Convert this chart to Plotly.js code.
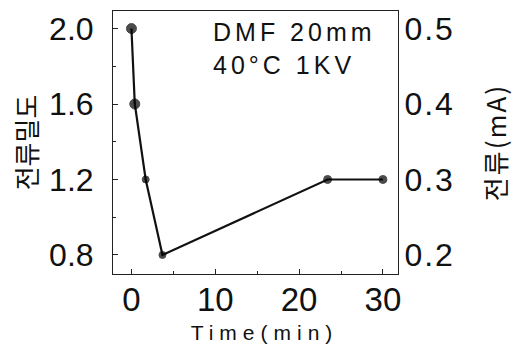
<!DOCTYPE html>
<html>
<head>
<meta charset="utf-8">
<script src="https://cdn.plot.ly/plotly-3.0.1.min.js"></script>
<style>
  html, body { margin: 0; padding: 0; background: #fff; }
  #chart { width: 514px; height: 347px; }
  .xtitle { letter-spacing: 6px; }
  .g-xtitle { transform: translateX(9px); }
  .y2title { letter-spacing: 2px; }
  .xaxislayer-above g.xtick { transform: translateY(-4px); }
  .annotation-text { letter-spacing: 4px; }
  .y2tick text { letter-spacing: 2px; }
</style>
</head>
<body>
<div id="chart"></div>
<script>
// ---- data ----
const timeMin = [0, 0.4, 1.7, 3.7, 23.4, 30];
const currentDensity = [2.0, 1.6, 1.2, 0.8, 1.2, 1.2];
const currentMA = [0.5, 0.4, 0.3, 0.2, 0.3, 0.3];
const xTicks = [0, 10, 20, 30];
const yLeftTicks = [0.8, 1.2, 1.6, 2.0];
const yLeftTickText = ['0.8', '1.2', '1.6', '2.0'];
const yRightTicks = [0.2, 0.3, 0.4, 0.5];
const yRightTickText = ['0.2', '0.3', '0.4', '0.5'];
const xTitle = 'Time(min)';
const yLeftTitle = '전류밀도';
const yRightTitle = '전류(mA)';
const noteText = 'DMF 20mm<br>40°C 1KV';

const tickFont = { family: 'Liberation Sans, Arial, sans-serif', size: 32, color: '#111' };

const traces = [
  {
    x: timeMin, y: currentDensity, type: 'scatter', mode: 'lines+markers',
    line: { color: '#111', width: 2.2 },
    marker: { color: '#000', size: [10, 10, 7, 7, 8, 8], symbol: 'circle', line: { color: '#000', width: 1 } },
    hoverinfo: 'skip', showlegend: false, cliponaxis: false
  },
  {
    x: timeMin, y: currentMA, type: 'scatter', mode: 'lines', yaxis: 'y2',
    line: { color: 'rgba(0,0,0,0)', width: 0 },
    hoverinfo: 'skip', showlegend: false
  }
];

const layout = {
  width: 514, height: 347,
  margin: { l: 113, r: 116, t: 11, b: 73 },
  paper_bgcolor: '#fff', plot_bgcolor: '#fff',
  showlegend: false,
  xaxis: {
    range: [-2.2, 31.8], tickvals: xTicks, ticktext: xTicks.map(String),
    ticks: 'inside', ticklen: 5, tickcolor: '#222',
    minor: { tickvals: [5, 15, 25], ticks: 'inside', ticklen: 3, tickcolor: '#222' },
    showline: true, linecolor: '#222', linewidth: 1, mirror: true,
    showgrid: false, zeroline: false,
    tickfont: { family: 'Liberation Sans, Arial, sans-serif', size: 33, color: '#111' },
    title: { text: xTitle, font: { family: 'Liberation Sans, Arial, sans-serif', size: 21, color: '#111' }, standoff: 4 }
  },
  yaxis: {
    range: [0.699, 2.093], tickvals: yLeftTicks, ticktext: yLeftTickText,
    ticks: 'inside', ticklen: 5, tickcolor: '#222',
    minor: { tickvals: [1.0, 1.4, 1.8], ticks: 'inside', ticklen: 3, tickcolor: '#222' },
    showline: true, linecolor: '#222', linewidth: 1, mirror: true,
    showgrid: false, zeroline: false,
    tickfont: tickFont, ticklabelstandoff: 12,
    title: { text: yLeftTitle, font: { family: 'Noto Sans CJK KR, sans-serif', size: 26, color: '#111' }, standoff: 4 }
  },
  yaxis2: {
    overlaying: 'y', side: 'right',
    range: [0.699 / 4, 2.093 / 4], tickvals: yRightTicks, ticktext: yRightTickText,
    ticks: '', showline: true, linecolor: '#222', linewidth: 1,
    showgrid: false, zeroline: false,
    tickfont: tickFont, ticklabelstandoff: -1,
    title: { text: yRightTitle, font: { family: 'Noto Sans CJK KR, sans-serif', size: 26, color: '#111' }, standoff: 33 }
  },
  annotations: [
    {
      text: noteText, xref: 'paper', yref: 'paper', x: 0.345, y: 0.982,
      xanchor: 'left', yanchor: 'top', align: 'left', showarrow: false,
      font: { family: 'Liberation Sans, Arial, sans-serif', size: 25, color: '#111' }
    }
  ]
};

Plotly.newPlot('chart', traces, layout, { displayModeBar: false, staticPlot: true });
</script>
</body>
</html>
